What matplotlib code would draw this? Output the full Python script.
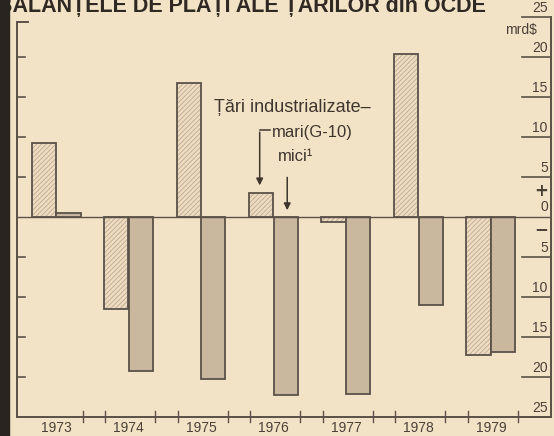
import matplotlib
matplotlib.use("Agg")
import matplotlib.pyplot as plt
import matplotlib.transforms as mtransforms
from matplotlib.patches import Rectangle
import numpy as np

# Balanțele de plăți ale țărilor din OCDE (mrd $)
ani = ['1973', '1974', '1975', '1976', '1977', '1978', '1979']
mari = [9.2, -11.5, 16.75, 3.0, -0.6, 20.4, -17.3]     # G-10
mici = [0.5, -19.3, -20.2, -22.3, -22.1, -11.0, -16.9]
valori_axa = [25, 20, 15, 10, 5, 0, -5, -10, -15, -20, -25]

fundal = '#f3e3c6'
linie = '#5b5148'
hasura = '#bcab92'
gri = '#c9b89e'
text_col = '#4a4038'

plt.rcParams['hatch.linewidth'] = 0.6
plt.rcParams['hatch.color'] = hasura

fig = plt.figure(figsize=(5.54, 4.36), dpi=100, facecolor=fundal)
ax = fig.add_axes([17/554, 19/436, 534/554, 400/436])
ax.set_facecolor('none')
ax.set_xlim(-0.539, 6.83)
ax.set_ylim(-25, 25)
for s in ax.spines.values():
    s.set_visible(False)
ax.set_xticks([])
ax.set_yticks([])

x = np.arange(len(ani))
w = 0.335
off = 0.17

# bare hasurate (mari) + contur
ax.bar(x - off, mari, width=w, color='#eddcc0', hatch='///////', edgecolor=hasura, linewidth=0)
ax.bar(x - off, mari, width=w, fill=False, edgecolor=linie, linewidth=1.3)
# bare gri (mici)
ax.bar(x + off, mici, width=w, color=gri, edgecolor=linie, linewidth=1.3)

# linia zero
ax.axhline(0, color=linie, lw=1.0)

ax_tr = mtransforms.blended_transform_factory(ax.transAxes, ax.transData)
# axa stanga
ax.plot([0, 0], [-25, 24.4], color=linie, lw=1.4, transform=ax_tr, clip_on=False)
ax.plot([0, 0.02], [24.4, 24.4], color=linie, lw=1.4, transform=ax_tr, clip_on=False)
for v in valori_axa:
    if v not in (0, 25, -25):
        ax.plot([0, 0.015], [v, v], color=linie, lw=1.2, transform=ax_tr, clip_on=False)

# axa dreapta cu etichete
ax.plot([1, 1], [-25, 25], color=linie, lw=1.4, transform=ax_tr, clip_on=False)
for v in valori_axa:
    if v == 0:
        continue
    ax.plot([0.946, 1], [v, v], color=linie, lw=1.2, transform=ax_tr, clip_on=False)
    ax.text(0.994, v + 0.3, str(abs(v)), transform=ax_tr, ha='right', va='bottom',
            fontsize=10, color=text_col, family=['Liberation Sans', 'DejaVu Sans'])
ax.text(0.994, 3.2, '+', transform=ax_tr, ha='right', va='center', fontsize=12,
        color=text_col, fontweight='bold')
ax.text(0.994, 1.2, '0', transform=ax_tr, ha='right', va='center', fontsize=10,
        color=text_col, family=['Liberation Sans', 'DejaVu Sans'])
ax.text(0.994, -1.5, '−', transform=ax_tr, ha='right', va='center', fontsize=12,
        color=text_col, fontweight='bold')
ax.text(0.974, 23.4, 'mrd$', transform=ax_tr, ha='right', va='center', fontsize=10,
        color=text_col, family=['Liberation Sans', 'DejaVu Sans'])

# axa de jos
ax.plot([-0.539, 6.83], [-25, -25], color=linie, lw=1.4, clip_on=False)
bife = []
for i in x:
    bife.append(i + 0.37)
    if i < len(ani) - 1:
        bife.append(i + 1 - 0.32)
for b in bife:
    ax.plot([b, b], [-24.3, -25.6], color=linie, lw=1.0, clip_on=False)
for i, an in zip(x, ani):
    ax.text(i, -25.55, an, ha='center', va='top', fontsize=10, color=text_col,
            family=['Liberation Sans', 'DejaVu Sans'], clip_on=False)

# adnotare
font_adn = ['Liberation Sans', 'DejaVu Sans']
ax.text(3.26, 13.75, 'Țări industrializate–', ha='center', va='center', fontsize=13,
        color='#3e352e', family=font_adn)
ax.text(3.54, 10.6, 'mari(G-10)', ha='center', va='center', fontsize=12,
        color='#3e352e', family=font_adn)
ax.text(3.30, 7.6, 'mici¹', ha='center', va='center', fontsize=12,
        color='#3e352e', family=font_adn)
ax.plot([2.81, 2.95], [10.9, 10.9], color='#3e352e', lw=1.1)
ax.annotate('', xy=(2.81, 3.6), xytext=(2.81, 10.95),
            arrowprops=dict(arrowstyle='-|>', color='#3e352e', lw=1.1, mutation_scale=10))
ax.annotate('', xy=(3.19, 0.5), xytext=(3.19, 5.3),
            arrowprops=dict(arrowstyle='-|>', color='#3e352e', lw=1.1, mutation_scale=10))

# titlu (taiat sus in original) - latimea potrivita la ~490 px
titlu = fig.text(-0.005, 1 - 12/436, 'BALANȚELE DE PLĂȚI ALE ȚĂRILOR din OCDE', ha='left',
                 va='baseline', fontsize=23, fontweight='bold', color='#2f2823',
                 family=['Liberation Sans', 'DejaVu Sans'])
fig.canvas.draw()
lat = titlu.get_window_extent().width
titlu.set_fontsize(23 * 492 / lat)

# marginea intunecata a scanarii
fig.patches.append(Rectangle((0, 0), 9/554, 1, transform=fig.transFigure,
                             color='#2a2420', zorder=10))

fig.savefig('out.png', dpi=100, facecolor=fundal)
